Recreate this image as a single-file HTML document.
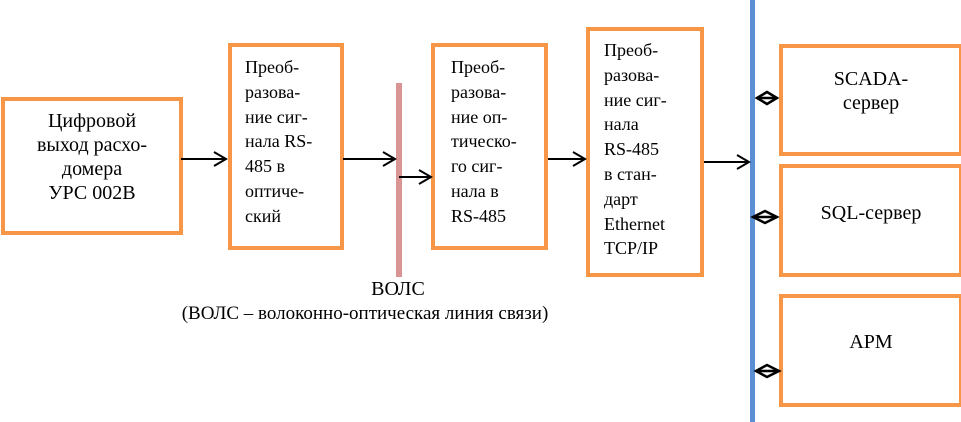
<!DOCTYPE html>
<html><head><meta charset="utf-8"><style>
html,body{margin:0;background:#fff;width:961px;height:422px;overflow:hidden;position:relative;color:#000}
div{font-family:"Liberation Serif","Noto Serif CJK SC","DejaVu Serif",serif}
.b{position:absolute;border:4px solid #f79646;box-sizing:border-box;background:#fff}
.t{position:absolute;font-size:18px;line-height:24.8px;white-space:nowrap}
.c{position:absolute;font-size:20px;line-height:24px;text-align:center;white-space:nowrap}
</style></head><body>
<div class="b" style="left:1px;top:97px;width:182px;height:138px"></div>
<div class="c" style="left:1px;top:109px;width:182px">Цифровой<br>выход расхо-<br>домера<br>УРС 002В</div>

<div class="b" style="left:228px;top:43px;width:116px;height:207px"></div>
<div class="t" style="left:245px;top:55px">Преоб-<br>разова-<br>ние сиг-<br>нала RS-<br>485 в<br>оптиче-<br>ский</div>

<div class="b" style="left:431px;top:43px;width:117px;height:207px"></div>
<div class="t" style="left:451px;top:55px">Преоб-<br>разова-<br>ние оп-<br>тическо-<br>го сиг-<br>нала в<br>RS-485</div>

<div class="b" style="left:586px;top:27px;width:118px;height:250px"></div>
<div class="t" style="left:604px;top:38px">Преоб-<br>разова-<br>ние сиг-<br>нала<br>RS-485<br>в стан-<br>дарт<br>Ethernet<br>TCP/IP</div>

<div class="b" style="left:779px;top:44px;width:184px;height:112px"></div>
<div class="c" style="left:779px;top:67px;width:184px">SCADA-<br>сервер</div>
<div class="b" style="left:779px;top:164px;width:184px;height:113px"></div>
<div class="c" style="left:779px;top:201px;width:184px">SQL-сервер</div>
<div class="b" style="left:779px;top:294px;width:184px;height:113px"></div>
<div class="c" style="left:779px;top:330px;width:184px">АРМ</div>

<div class="c" style="left:340px;top:277px;width:116px">ВОЛС</div>
<div class="c" style="left:115px;top:302px;width:500px;font-size:19px">(ВОЛС – волоконно-оптическая линия связи)</div>

<svg width="961" height="422" style="position:absolute;left:0;top:0">
<rect x="396" y="83" width="6" height="194" fill="#d99594"/>
<rect x="750" y="0" width="5" height="422" fill="#5b8fd3"/>
<g stroke="#000" stroke-width="2" fill="none">
<path d="M181 159H226M214 152L226 159L214 166"/>
<path d="M343 159H395M383 152L395 159L383 166"/>
<path d="M399 177H431M419 170L431 177L419 184"/>
<path d="M548 159H585M573 152L585 159L573 166"/>
<path d="M704 162H749M737 155L749 162L737 169"/>
</g>
<g stroke="#000" stroke-width="2.5" fill="#fff">
<path d="M757 98L767 92L777 98L767 104Z"/><line x1="757" y1="98" x2="777" y2="98"/>
<path d="M753 217L765 211L777 217L765 223Z"/><line x1="753" y1="217" x2="777" y2="217"/>
<path d="M756 371L767 365L779 371L767 377Z"/><line x1="756" y1="371" x2="779" y2="371"/>
</g>
</svg>
</body></html>
